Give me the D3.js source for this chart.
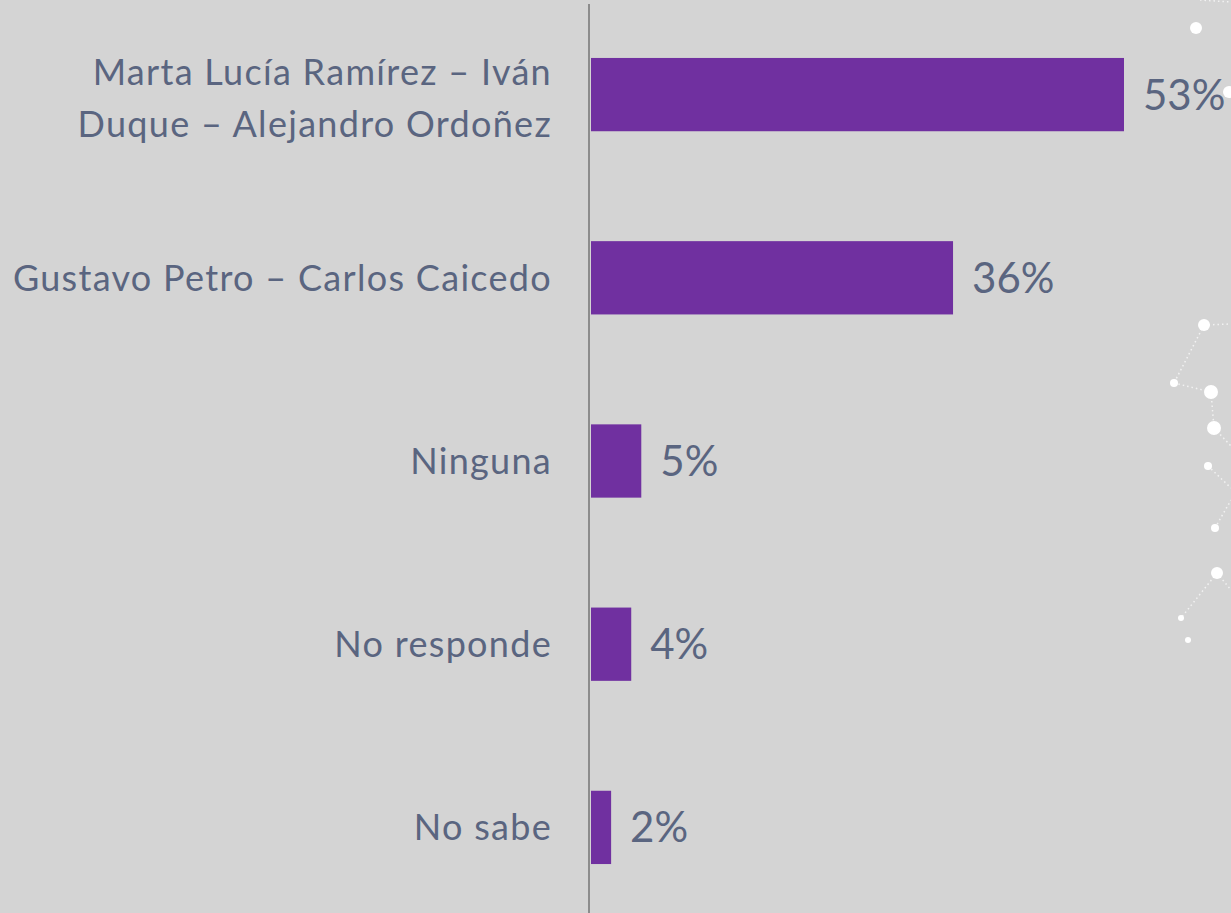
<!DOCTYPE html>
<html>
<head>
<meta charset="utf-8">
<script src="https://cdn.jsdelivr.net/npm/d3@7"></script>
<style>
  html, body { margin: 0; padding: 0; background: #d4d4d4; }
  svg { display: block; }
</style>
</head>
<body>
<div id="chart"></div>
<script>
// intención de voto, segunda vuelta
const categories = [
  ["Marta Lucía Ramírez – Iván", "Duque – Alejandro Ordoñez"],
  ["Gustavo Petro – Carlos Caicedo"],
  ["Ninguna"],
  ["No responde"],
  ["No sabe"]
];
const values = [53, 36, 5, 4, 2];
const valueLabels = ["53%", "36%", "5%", "4%", "2%"];

// decorative constellation on the right edge
const dots = [[1196, 28, 6], [1229, 92, 6], [1204, 325, 6], [1174, 383, 4], [1211, 392, 7],
  [1214, 428, 7], [1208, 466, 4], [1215, 528, 4], [1217, 573, 6], [1181, 618, 3], [1188, 640, 3]];
const links = [[1200, 0, 1231, 2], [1204, 325, 1231, 324], [1204, 325, 1174, 383], [1174, 383, 1211, 392],
  [1211, 392, 1214, 428], [1214, 428, 1231, 446], [1208, 466, 1231, 488], [1215, 528, 1231, 500],
  [1217, 573, 1181, 618], [1217, 573, 1231, 590]];

const width = 1231;
const height = 913;
const x0 = 591;
const textColor = "#5a6580";

const svg = d3.select("#chart")
  .append("svg")
  .attr("width", width)
  .attr("height", height);

svg.append("rect")
  .attr("width", width)
  .attr("height", height)
  .attr("fill", "#d4d4d4");

svg.selectAll("line.link")
  .data(links)
  .enter()
  .append("line")
  .attr("class", "link")
  .attr("x1", d => d[0]).attr("y1", d => d[1])
  .attr("x2", d => d[2]).attr("y2", d => d[3])
  .attr("stroke", "#f2f2f2")
  .attr("stroke-width", 1.5)
  .attr("stroke-dasharray", "1.5,3");

svg.selectAll("circle.dot")
  .data(dots)
  .enter()
  .append("circle")
  .attr("class", "dot")
  .attr("cx", d => d[0])
  .attr("cy", d => d[1])
  .attr("r", d => d[2])
  .attr("fill", "#ffffff");

const y = d3.scaleBand()
  .domain(d3.range(values.length))
  .range([3, 919])
  .paddingInner(0.6)
  .paddingOuter(0.3);

const x = d3.scaleLinear()
  .domain([0, 53])
  .range([x0, 1124]);

svg.selectAll("rect.bar")
  .data(values)
  .enter()
  .append("rect")
  .attr("class", "bar")
  .attr("x", x(0))
  .attr("y", (d, i) => y(i))
  .attr("width", d => x(d) - x(0))
  .attr("height", y.bandwidth())
  .attr("fill", "#7030a0");

svg.append("line")
  .attr("x1", 589).attr("x2", 589)
  .attr("y1", 4).attr("y2", height)
  .attr("stroke", "#8c8c8c")
  .attr("stroke-width", 2);

svg.selectAll("text.value")
  .data(values)
  .enter()
  .append("text")
  .attr("class", "value")
  .attr("x", d => x(d) + 19)
  .attr("y", (d, i) => y(i) + y.bandwidth() / 2 + 15)
  .attr("font-family", "Lato, 'Open Sans', sans-serif")
  .attr("font-size", 42)
  .attr("fill", textColor)
  .text((d, i) => valueLabels[i]);

const labels = svg.selectAll("text.cat")
  .data(categories)
  .enter()
  .append("text")
  .attr("class", "cat")
  .attr("x", 552)
  .attr("text-anchor", "end")
  .attr("font-family", "Lato, 'Open Sans', sans-serif")
  .attr("font-size", 36)
  .attr("letter-spacing", 1.3)
  .attr("fill", textColor)
  .attr("y", (d, i) => y(i) + y.bandwidth() / 2 + 13 - (d.length - 1) * 23);

labels.selectAll("tspan")
  .data(d => d)
  .enter()
  .append("tspan")
  .attr("x", 552)
  .attr("dy", (d, i) => i === 0 ? 0 : 52)
  .text(d => d);
</script>
</body>
</html>
